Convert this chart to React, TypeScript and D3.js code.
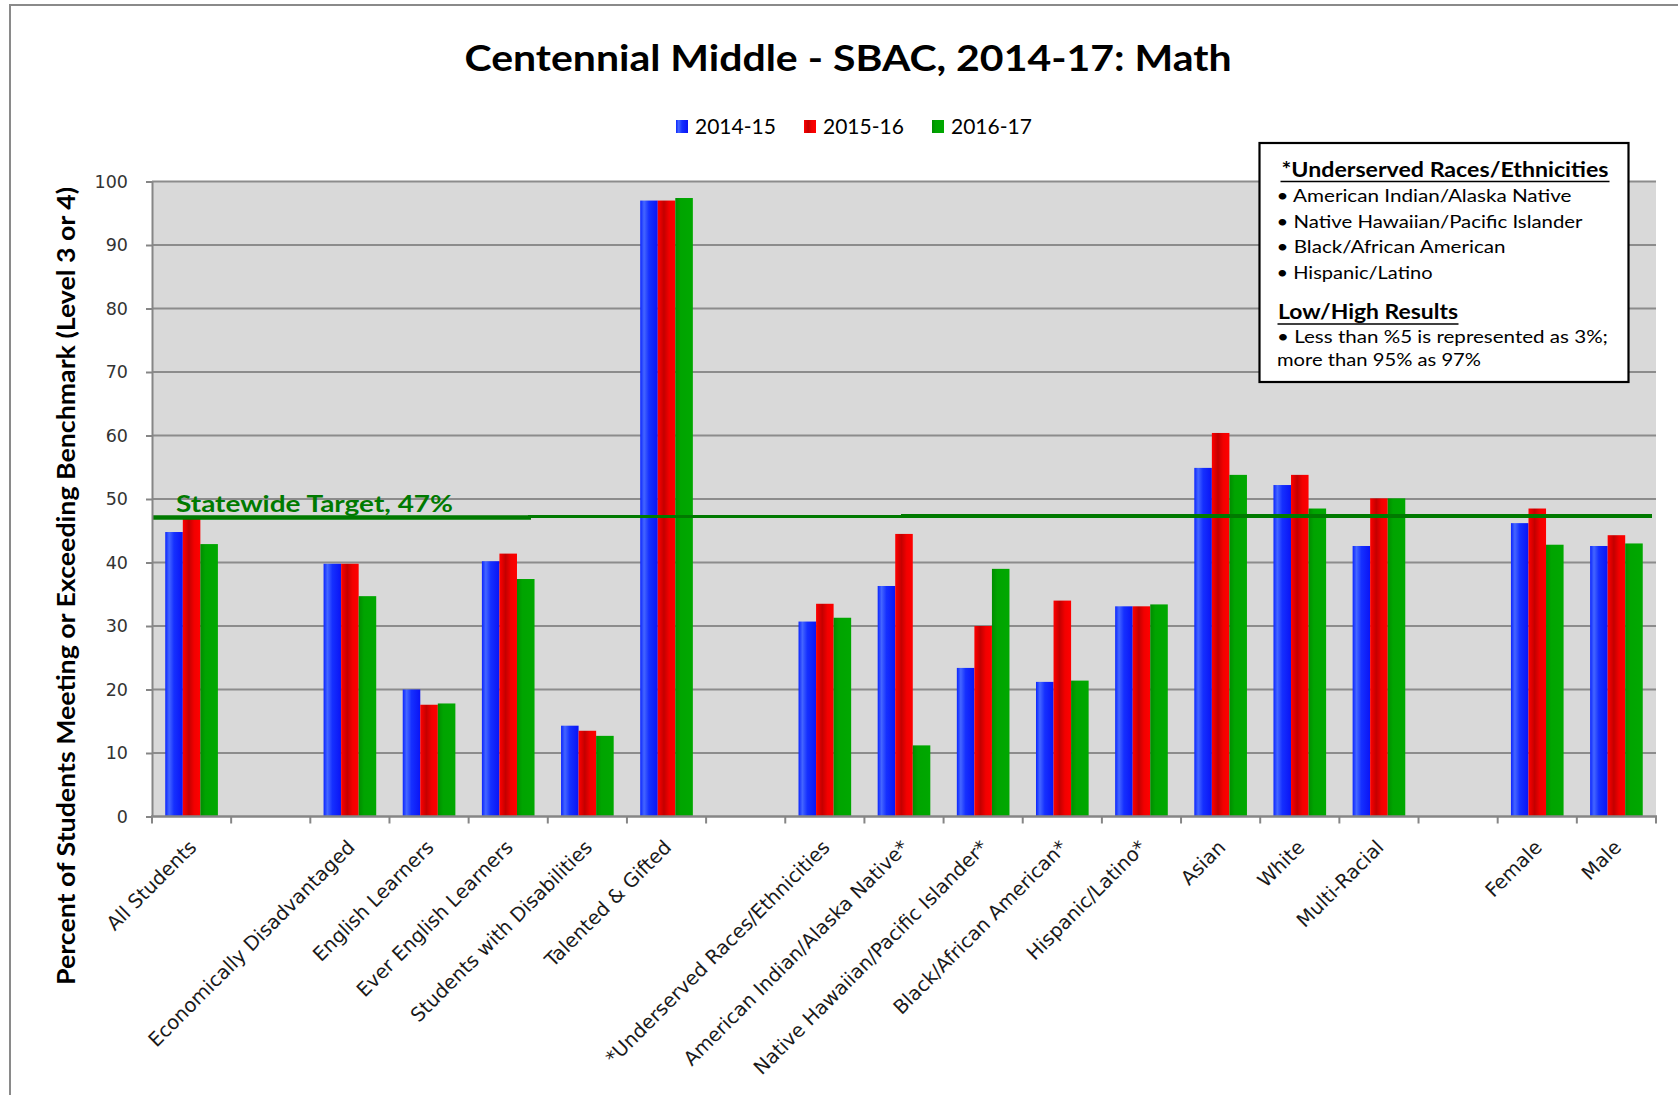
// SBAC math results chart, D3 drawn into an svg ref
import React, { useEffect, useRef } from 'react';
import * as d3 from 'd3';

// blank strings are empty category slots (gaps between groups)
const categories = [
  'All Students', '', 'Economically Disadvantaged', 'English Learners', 'Ever English Learners',
  'Students with Disabilities', 'Talented & Gifted', '', '*Underserved Races/Ethnicities',
  'American Indian/Alaska Native*', 'Native Hawaiian/Pacific Islander*', 'Black/African American*',
  'Hispanic/Latino*', 'Asian', 'White', 'Multi-Racial', '', 'Female', 'Male',
];
const seriesNames = ['2014-15', '2015-16', '2016-17'];
const values1415 = [44.8, null, 39.8, 20.0, 40.2, 14.3, 97.0, null, 30.7, 36.3, 23.4, 21.2, 33.1, 54.9, 52.2, 42.6, null, 46.2, 42.6];
const values1516 = [47.0, null, 39.8, 17.6, 41.4, 13.5, 97.0, null, 33.5, 44.5, 30.0, 34.0, 33.1, 60.4, 53.8, 50.1, null, 48.5, 44.3];
const values1617 = [42.9, null, 34.7, 17.8, 37.4, 12.7, 97.4, null, 31.3, 11.2, 39.0, 21.4, 33.4, 53.8, 48.5, 50.1, null, 42.8, 43.0];
const yTicks = [0, 10, 20, 30, 40, 50, 60, 70, 80, 90, 100];
const targetValue = 47;
const targetLabel = 'Statewide Target, 47%';
const underservedTitle = '*Underserved Races/Ethnicities';
const underservedList = [
  'American Indian/Alaska Native', 'Native Hawaiian/Pacific Islander',
  'Black/African American', 'Hispanic/Latino',
];
const lowHighTitle = 'Low/High Results';
const lowHighLines = ['• Less than %5 is represented as 3%;', 'more than 95% as 97%'];

const gradients = [
  [['0%', '#0a24ff'], ['22%', '#4466ff'], ['50%', '#1530ff'], ['100%', '#0a14f5']],
  [['0%', '#ff0000'], ['35%', '#c40000'], ['65%', '#f20000'], ['100%', '#ff0000']],
  [['0%', '#008c00'], ['30%', '#00a400'], ['100%', '#00a800']],
];

const SBACChart = () => {
  const svgRef = useRef<SVGSVGElement>(null);

  useEffect(() => {
    if (!svgRef.current) return;
    const W = 1678, H = 1095;
    const plot = { left: 152, right: 1656, top: 181.5, bottom: 816.5 };
    const svg = d3.select(svgRef.current).attr('width', W).attr('height', H);
    svg.selectAll('*').remove();

    const defs = svg.append('defs');
    gradients.forEach((stops, i) => {
      const g = defs.append('linearGradient').attr('id', `bar-grad-${i}`).attr('x1', 0).attr('x2', 1).attr('y1', 0).attr('y2', 0);
      stops.forEach(([o, c]) => g.append('stop').attr('offset', o).attr('stop-color', c));
    });

    // outer chart border (runs off the right/bottom of the picture)
    svg.append('rect').attr('x', 10).attr('y', 5).attr('width', 1700).attr('height', 1200)
      .attr('fill', '#fff').attr('stroke', '#8a8a8a').attr('stroke-width', 2);

    const x0 = d3.scaleBand<string>()
      .domain(categories.map((_, i) => String(i)))
      .range([plot.left, plot.right])
      .paddingInner(0.335)
      .paddingOuter(0.1675);
    const x1 = d3.scaleBand<string>().domain(seriesNames).range([0, x0.bandwidth()]);
    const y = d3.scaleLinear().domain([0, 100]).range([plot.bottom, plot.top]);

    svg.append('rect').attr('x', plot.left).attr('y', plot.top)
      .attr('width', plot.right - plot.left).attr('height', plot.bottom - plot.top).attr('fill', '#d9d9d9');

    // gridlines
    svg.append('g').selectAll('line').data(yTicks.filter(t => t > 0)).enter().append('line')
      .attr('x1', plot.left).attr('x2', plot.right)
      .attr('y1', d => y(d)).attr('y2', d => y(d))
      .attr('stroke', '#8c8c8c').attr('stroke-width', 2);

    // bars
    const allSeries = [values1415, values1516, values1617];
    const groups = svg.append('g').selectAll('g').data(categories).enter().append('g')
      .attr('transform', (_, i) => `translate(${x0(String(i))},0)`);
    groups.selectAll('rect')
      .data((_, i) => seriesNames.map((s, k) => ({ s, k, v: allSeries[k][i] })).filter(d => d.v != null))
      .enter().append('rect')
      .attr('x', d => x1(d.s) || 0)
      .attr('width', x1.bandwidth())
      .attr('y', d => y(d.v as number))
      .attr('height', d => y(0) - y(d.v as number))
      .attr('fill', d => `url(#bar-grad-${d.k})`);

    // statewide target line (hand drawn in the original, in three strokes)
    const ty = y(targetValue);
    const span = plot.right - plot.left;
    const target = svg.append('g').attr('stroke', '#007a00');
    target.append('line').attr('x1', plot.left).attr('x2', plot.left + span * 0.252)
      .attr('y1', ty - 0.5).attr('y2', ty - 0.5).attr('stroke-width', 4.5);
    target.append('line').attr('x1', plot.left + span * 0.25).attr('x2', plot.left + span * 0.5)
      .attr('y1', ty - 1.5).attr('y2', ty - 1.5).attr('stroke-width', 3);
    target.append('line').attr('x1', plot.left + span * 0.498).attr('x2', plot.right - 4)
      .attr('y1', ty - 2).attr('y2', ty - 2).attr('stroke-width', 4);
    svg.append('text').attr('x', 176).attr('y', ty - 6)
      .attr('textLength', 277).attr('lengthAdjust', 'spacingAndGlyphs')
      .style('font-family', 'Lato, sans-serif').style('font-weight', 700).style('font-size', '23px')
      .attr('fill', '#007a00').text(targetLabel);

    // y axis
    const yAxis = svg.append('g').attr('transform', `translate(${plot.left},0)`)
      .call(d3.axisLeft(y).tickValues(yTicks).tickSize(6).tickSizeOuter(0).tickPadding(18));
    yAxis.select('.domain').attr('stroke', '#868686').attr('stroke-width', 2);
    yAxis.selectAll('.tick line').attr('stroke', '#868686').attr('stroke-width', 2);
    yAxis.selectAll('.tick text').attr('fill', '#333')
      .style('font-family', '"DejaVu Sans", sans-serif').style('font-size', '17.5px');

    // x axis with ticks at slot boundaries
    const xAxis = svg.append('g');
    xAxis.append('line').attr('x1', plot.left - 1).attr('x2', plot.right + 1)
      .attr('y1', plot.bottom).attr('y2', plot.bottom).attr('stroke', '#868686').attr('stroke-width', 2.5);
    xAxis.selectAll('.bound').data(d3.range(categories.length + 1)).enter().append('line')
      .attr('x1', i => plot.left + i * x0.step()).attr('x2', i => plot.left + i * x0.step())
      .attr('y1', plot.bottom).attr('y2', plot.bottom + 7)
      .attr('stroke', '#868686').attr('stroke-width', 2);
    xAxis.selectAll('text').data(categories.map((c, i) => ({ c, i })).filter(d => d.c)).enter().append('text')
      .attr('transform', d => `translate(${(x0(String(d.i)) || 0) + x0.bandwidth() / 2 + 6},${plot.bottom + 32}) rotate(-45)`)
      .attr('text-anchor', 'end')
      .style('font-family', '"DejaVu Sans", sans-serif').style('font-size', '19.5px')
      .attr('fill', '#1a1a1a').text(d => d.c);

    // titles
    svg.append('text').attr('x', 848).attr('y', 71).attr('text-anchor', 'middle')
      .attr('textLength', 767).attr('lengthAdjust', 'spacingAndGlyphs')
      .style('font-family', 'Lato, sans-serif').style('font-weight', 700).style('font-size', '37px')
      .text('Centennial Middle - SBAC, 2014-17: Math');
    svg.append('text').attr('transform', 'translate(75,586) rotate(-90)').attr('text-anchor', 'middle')
      .attr('textLength', 798).attr('lengthAdjust', 'spacingAndGlyphs')
      .style('font-family', 'Lato, sans-serif').style('font-weight', 700).style('font-size', '24px')
      .text('Percent of Students Meeting or Exceeding Benchmark (Level 3 or 4)');

    // legend
    const legend = svg.append('g').selectAll('g').data(seriesNames).enter().append('g')
      .attr('transform', (_, i) => `translate(${676 + i * 128},120)`);
    legend.append('rect').attr('width', 12).attr('height', 13).attr('fill', (_, i) => `url(#bar-grad-${i})`);
    legend.append('text').attr('x', 19).attr('y', 14)
      .style('font-family', 'Lato, sans-serif').style('font-size', '21px').text(d => d);

    // notes box
    const note = svg.append('g').attr('transform', 'translate(1259.5,143)');
    note.append('rect').attr('width', 369).attr('height', 239).attr('fill', '#fff')
      .attr('stroke', '#000').attr('stroke-width', 2.2);
    const boxText = (sel: any) => sel.style('font-family', 'Lato, sans-serif').attr('fill', '#000');
    note.append('text').attr('x', 22).attr('y', 34).attr('textLength', 327).attr('lengthAdjust', 'spacingAndGlyphs')
      .call(boxText).style('font-weight', 700).style('font-size', '20px').text(underservedTitle);
    note.append('line').attr('x1', 21).attr('x2', 350).attr('y1', 38.5).attr('y2', 38.5).attr('stroke', '#000').attr('stroke-width', 1.6);
    const listLengths = [295, 306, 229, 156];
    underservedList.forEach((t, i) => {
      note.append('text').attr('x', 17).attr('y', 59 + i * 25.5)
        .attr('textLength', listLengths[i]).attr('lengthAdjust', 'spacingAndGlyphs')
        .call(boxText).style('font-size', '17px').text(`• ${t}`);
    });
    note.append('text').attr('x', 18.5).attr('y', 176).attr('textLength', 180).attr('lengthAdjust', 'spacingAndGlyphs')
      .call(boxText).style('font-weight', 700).style('font-size', '20px').text(lowHighTitle);
    note.append('line').attr('x1', 18).attr('x2', 199).attr('y1', 181).attr('y2', 181).attr('stroke', '#000').attr('stroke-width', 1.6);
    const lowLengths = [331, 204];
    lowHighLines.forEach((t, i) => {
      note.append('text').attr('x', 17.5).attr('y', 200 + i * 22.5)
        .attr('textLength', lowLengths[i]).attr('lengthAdjust', 'spacingAndGlyphs')
        .call(boxText).style('font-size', '17px').text(t);
    });
  }, []);

  return <svg ref={svgRef} style={{ position: 'absolute', left: 0, top: 0, display: 'block' }} />;
};

export default function App() {
  return <SBACChart />;
}
